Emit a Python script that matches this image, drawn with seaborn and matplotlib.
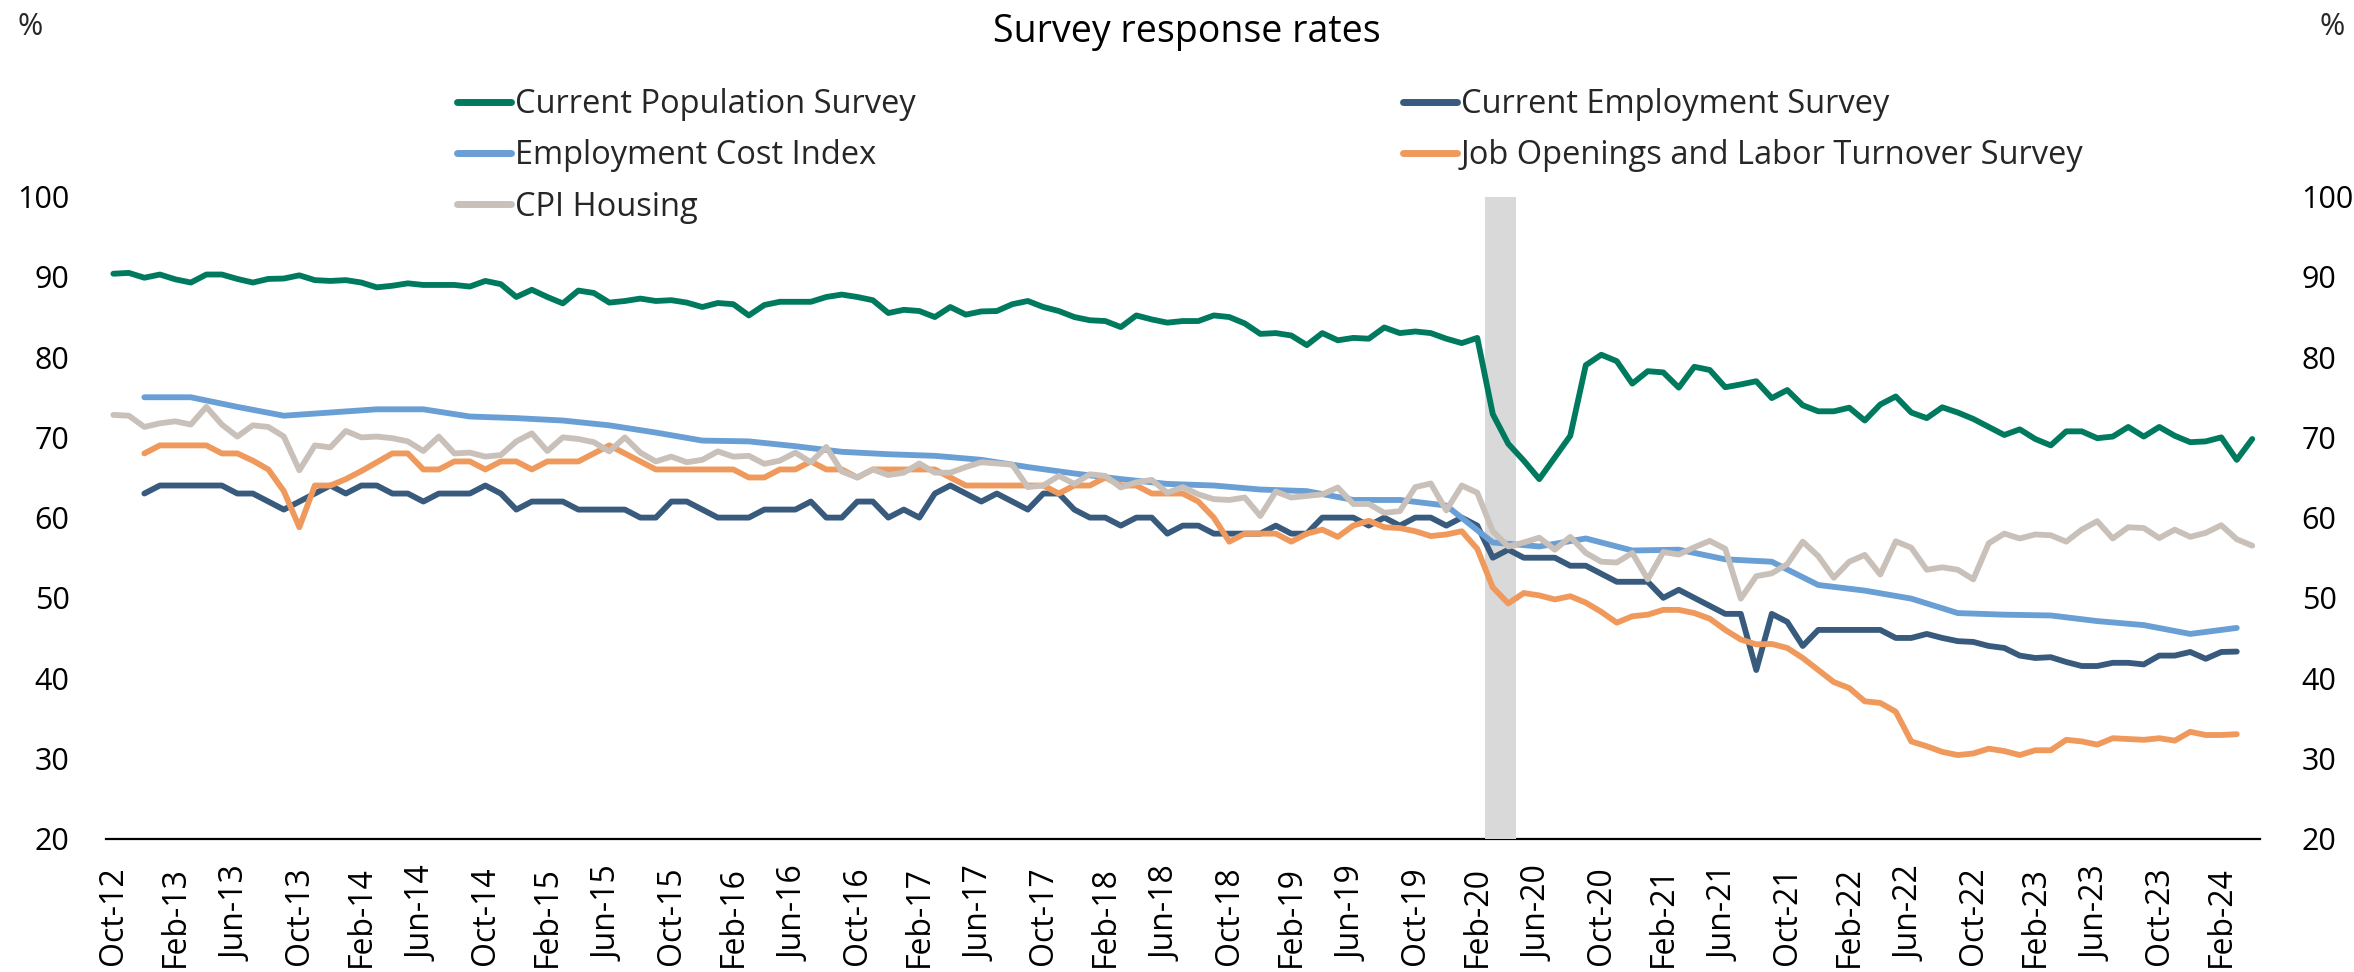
import numpy as np
import pandas as pd
import matplotlib
matplotlib.use("Agg")
import matplotlib.pyplot as plt
from matplotlib.ticker import FixedLocator, FixedFormatter
import seaborn as sns

# ---------------- data ----------------
months = pd.date_range("2012-10-01", "2024-04-01", freq="MS").strftime("%b-%y").tolist()
NA = np.nan

cps = [90.4, 90.5, 89.9, 90.3, 89.7, 89.3, 90.3, 90.3, 89.75, 89.3,
       89.75, 89.8, 90.2, 89.6, 89.5, 89.6, 89.3, 88.7, 88.9, 89.2,
       89.0, 89.0, 89.0, 88.8, 89.5, 89.1, 87.5, 88.4, 87.5, 86.7,
       88.3, 88.0, 86.8, 87.0, 87.3, 87.0, 87.1, 86.8, 86.25, 86.75,
       86.6, 85.2, 86.5, 86.9, 86.9, 86.9, 87.5, 87.8, 87.5, 87.1,
       85.5, 85.9, 85.75, 85.0, 86.25, 85.3, 85.7, 85.75, 86.6, 87.0,
       86.25, 85.75, 85.0, 84.6, 84.5, 83.75, 85.2, 84.7, 84.3, 84.5,
       84.5, 85.2, 85.0, 84.2, 82.9, 83.0, 82.7, 81.5, 83.0, 82.1,
       82.4, 82.3, 83.7, 83.0, 83.2, 83.0, 82.3, 81.75, 82.4, 72.9,
       69.2, 67.1, 64.8, 67.5, 70.2, 79.0, 80.3, 79.5, 76.7, 78.25,
       78.1, 76.2, 78.8, 78.4, 76.25, 76.6, 77.0, 74.9, 75.9, 74.0,
       73.25, 73.25, 73.7, 72.1, 74.1, 75.1, 73.1, 72.4, 73.75, 73.1,
       72.3, 71.3, 70.3, 71.0, 69.8, 69.0, 70.75, 70.75, 69.9, 70.1,
       71.3, 70.1, 71.3, 70.2, 69.4, 69.5, 70.0, 67.2, 69.8]

ces = [NA, NA, 63, 64, 64, 64, 64, 64, 63, 63,
       62, 61, 62, 63, 64, 63, 64, 64, 63, 63,
       62, 63, 63, 63, 64, 63, 61, 62, 62, 62,
       61, 61, 61, 61, 60, 60, 62, 62, 61, 60,
       60, 60, 61, 61, 61, 62, 60, 60, 62, 62,
       60, 61, 60, 63, 64, 63, 62, 63, 62, 61,
       63, 63, 61, 60, 60, 59, 60, 60, 58, 59,
       59, 58, 58, 58, 58, 59, 58, 58, 60, 60,
       60, 59, 60, 59, 60, 60, 59, 60, 59, 55,
       56, 55, 55, 55, 54, 54, 53, 52, 52, 52,
       50, 51, 50, 49, 48, 48, 41, 48, 47, 44,
       46, 46, 46, 46, 46, 45, 45, 45.5, 45, 44.6,
       44.5, 44.0, 43.75, 42.8, 42.5, 42.6, 42.0, 41.5, 41.5, 41.9,
       41.9, 41.7, 42.8, 42.8, 43.25, 42.4, 43.25, 43.3, NA]

# Employment Cost Index is quarterly (Dec-12 ... Mar-24)
eci_quarters = months[2::3]
eci = [75.0, 75.0, 73.8, 72.7, 73.1, 73.5, 73.5, 72.6, 72.4, 72.1,
       71.5, 70.6, 69.6, 69.5, 68.9, 68.2, 67.9, 67.7, 67.2, 66.3,
       65.5, 64.8, 64.2, 64.0, 63.5, 63.3, 62.2, 62.2, 61.5, 56.9,
       56.4, 57.4, 55.9, 56.0, 54.8, 54.5, 51.6, 50.9, 49.9, 48.1,
       47.9, 47.8, 47.1, 46.6, 45.5, 46.25]

jolts = [NA, NA, 68, 69, 69, 69, 69, 68, 68, 67.1,
         66, 63.3, 58.8, 64, 64, 64.8, 65.8, 66.9, 68, 68,
         66, 66, 67, 67, 66, 67, 67, 66, 67, 67,
         67, 68, 69, 68, 67, 66, 66, 66, 66, 66,
         66, 65, 65, 66, 66, 67, 66, 66, 65, 66,
         66, 66, 66, 66, 65, 64, 64, 64, 64, 64,
         64, 63, 64, 64, 65, 64, 64, 63, 63, 63,
         62, 60, 57, 58, 58, 58, 57, 58, 58.5, 57.6,
         59, 59.6, 58.8, 58.7, 58.3, 57.7, 57.9, 58.3, 56.1, 51.3,
         49.3, 50.6, 50.3, 49.8, 50.2, 49.4, 48.25, 46.9, 47.7, 47.9,
         48.5, 48.5, 48.1, 47.4, 46.0, 44.8, 44.2, 44.25, 43.75, 42.5,
         41.0, 39.5, 38.75, 37.1, 36.9, 35.8, 32.1, 31.5, 30.8, 30.4,
         30.6, 31.2, 30.9, 30.4, 31.0, 31.0, 32.3, 32.1, 31.7, 32.5,
         32.4, 32.3, 32.5, 32.2, 33.3, 32.9, 32.9, 33.0, NA]

cpi_housing = [72.8, 72.7, 71.3, 71.75, 72.0, 71.6, 73.8, 71.6, 70.1, 71.5,
               71.3, 70.1, 65.9, 69.0, 68.75, 70.8, 70.0, 70.1, 69.9, 69.5,
               68.3, 70.1, 68.0, 68.1, 67.6, 67.8, 69.5, 70.5, 68.3, 70.0,
               69.8, 69.4, 68.25, 70.0, 68.1, 67.0, 67.6, 66.9, 67.2, 68.25,
               67.6, 67.7, 66.7, 67.1, 68.1, 66.9, 68.8, 65.75, 65.0, 66.0,
               65.3, 65.6, 66.75, 65.6, 65.6, 66.3, 66.9, 66.75, 66.6, 63.8,
               64.0, 65.2, 64.2, 65.4, 65.2, 63.75, 64.4, 64.7, 63.1, 63.8,
               62.9, 62.3, 62.2, 62.5, 60.2, 63.25, 62.5, 62.7, 62.9, 63.75,
               61.7, 61.7, 60.6, 60.8, 63.8, 64.25, 60.9, 64.0, 63.1, 58.3,
               56.4, 56.9, 57.5, 56.0, 57.6, 55.6, 54.5, 54.4, 55.6, 52.3,
               55.7, 55.4, 56.3, 57.1, 56.1, 49.9, 52.7, 53.05, 54.2, 57.0,
               55.2, 52.5, 54.5, 55.35, 52.9, 57.05, 56.25, 53.5, 53.8, 53.5,
               52.3, 56.8, 58.0, 57.4, 57.9, 57.8, 57.0, 58.5, 59.55, 57.4,
               58.8, 58.7, 57.45, 58.5, 57.6, 58.1, 59.05, 57.3, 56.5]

recession_months = ["Mar-20", "Apr-20"]

series_names = ["Current Population Survey", "Current Employment Survey",
                "Employment Cost Index", "Job Openings and Labor Turnover Survey",
                "CPI Housing"]
series_colors = ["#007A5E", "#385A7C", "#699FD4", "#EF9A5C", "#C9C1B9"]
tick_labels = months[::4]

# ---------------- build long table ----------------
pos = {m: i for i, m in enumerate(months)}
frames = []
for name, mlist, vals in [
        (series_names[0], months, cps),
        (series_names[1], months, ces),
        (series_names[2], eci_quarters, eci),
        (series_names[3], months, jolts),
        (series_names[4], months, cpi_housing)]:
    frames.append(pd.DataFrame({"month": mlist, "value": vals, "series": name}))
df = pd.concat(frames, ignore_index=True).dropna()
df["x"] = df["month"].map(pos)

# ---------------- style ----------------
sns.set_style("white")
plt.rcParams["font.family"] = ["Open Sans", "DejaVu Sans"]
plt.rcParams["axes.unicode_minus"] = False

W, H = 2354, 972
fig = plt.figure(figsize=(W / 100, H / 100), dpi=100)
ax_left, ax_right = 105.6 / W, 2260 / W
ax_top, ax_bot = 1 - 196.7 / H, 1 - 838.5 / H
ax = fig.add_axes([ax_left, ax_bot, ax_right - ax_left, ax_top - ax_bot])

# recession shading
r0, r1 = pos[recession_months[0]], pos[recession_months[-1]]
ax.axvspan(r0 - 0.5, r1 + 0.5, color="#D9D9D9", lw=0, zorder=2.6)

for name, col in zip(series_names, series_colors):
    sub = df[df["series"] == name]
    sns.lineplot(data=sub, x="x", y="value", color=col, linewidth=4.2,
                 estimator=None, sort=True, ax=ax, label=name, zorder=4)

handles, labels = ax.get_legend_handles_labels()
if ax.get_legend() is not None:
    ax.get_legend().remove()

ax.set_xlim(-0.5, len(months) - 0.5)
ax.set_ylim(20, 100)
ax.set_yticks(np.arange(20, 101, 10))
ax.set_xlabel("")
ax.set_ylabel("")

# x axis: labels at category centres, tick marks at boundaries
ax.xaxis.set_major_locator(FixedLocator(np.arange(0, len(months), 4)))
ax.xaxis.set_major_formatter(FixedFormatter(tick_labels))
ax.xaxis.set_minor_locator(FixedLocator(np.arange(0, len(months), 4) - 0.5))
ax.tick_params(axis="x", which="major", length=0, pad=20, labelsize=23,
               labelrotation=90, labelcolor="black")
ax.tick_params(axis="x", which="minor", length=8, width=1.3, color="black",
               direction="out")
ax.tick_params(axis="y", length=0, pad=26, labelsize=22, labelcolor="black")

for s in ["left", "right", "top"]:
    ax.spines[s].set_visible(False)
ax.spines["bottom"].set_color("black")
ax.spines["bottom"].set_linewidth(1.6)
ax.spines["bottom"].set_zorder(2.5)

# right axis labels
ax2 = ax.twinx()
ax2.set_ylim(20, 100)
ax2.set_yticks(np.arange(20, 101, 10))
ax2.tick_params(axis="y", length=0, pad=30, labelsize=22, labelcolor="black")
for s in ax2.spines.values():
    s.set_visible(False)
ax2.patch.set_visible(False)

# title and unit labels
fig.text(1187 / W, 1 - 32 / H, "Survey response rates", ha="center", va="center",
         fontsize=27, color="black")
fig.text(30 / W, 1 - 27 / H, "%", ha="center", va="center", fontsize=22)
fig.text(2332 / W, 1 - 27 / H, "%", ha="center", va="center", fontsize=22)

# legends (two columns as in the reference)
hmap = dict(zip(labels, handles))
leg_kw = dict(frameon=False, fontsize=23.5, handlelength=1.65, handletextpad=0.12,
              labelspacing=0.56, borderpad=0, borderaxespad=0, loc="upper left")
col1 = [series_names[0], series_names[2], series_names[4]]
col2 = [series_names[1], series_names[3]]
leg1 = fig.legend([hmap[n] for n in col1], col1,
                  bbox_to_anchor=(457 / W, 1 - 88 / H), **leg_kw)
leg2 = fig.legend([hmap[n] for n in col2], col2,
                  bbox_to_anchor=(1403 / W, 1 - 88 / H), **leg_kw)
for lg in (leg1, leg2):
    for ln in lg.get_lines():
        ln.set_linewidth(5)

fig.savefig("out.png", dpi=100)
